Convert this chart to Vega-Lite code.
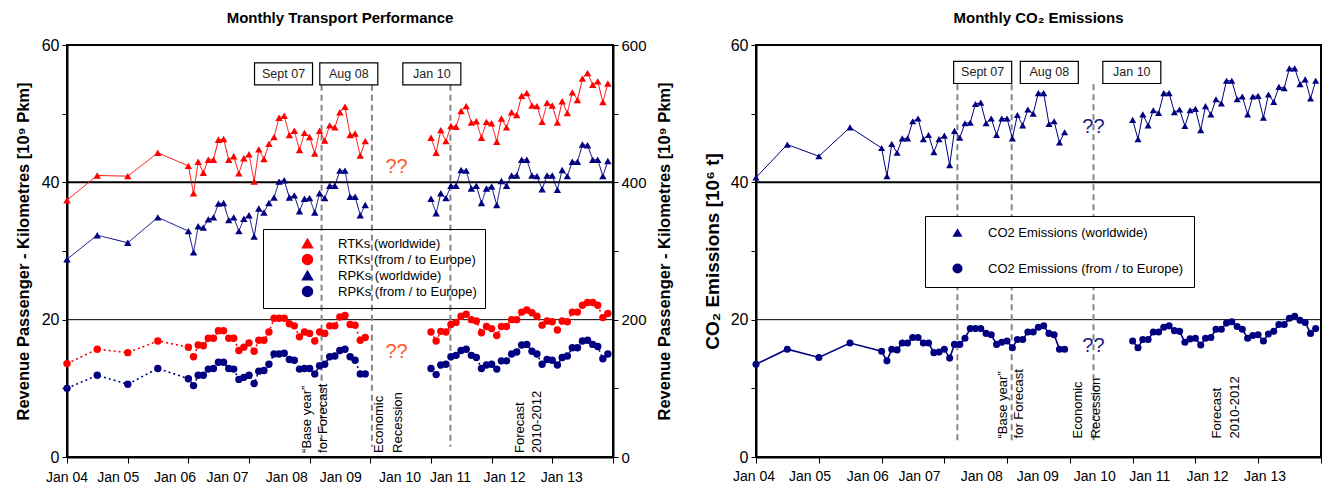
{
  "$schema": "https://vega.github.io/schema/vega-lite/v6.json",
  "padding": {"left": 14, "right": 2, "top": 10, "bottom": 2},
  "background": "white",
  "config": {
    "font": "Liberation Sans",
    "view": {"stroke": "black", "strokeWidth": 2},
    "axis": {"labelColor": "black", "titleColor": "black", "domainColor": "black", "tickColor": "black", "domainWidth": 2, "tickWidth": 1},
    "title": {"fontSize": 15, "fontWeight": "bold", "color": "black", "offset": 11},
    "legend": {"labelFont": "Liberation Sans", "labelLimit": 320}
  },
  "resolve": {"scale": {"color": "independent", "shape": "independent"}},
  "spacing": 28,
  "datasets": {
    "tp": [
      {"d":"2004-01","s":"RTKs (worldwide)","v":37.4},{"d":"2004-07","s":"RTKs (worldwide)","v":41.0},{"d":"2005-01","s":"RTKs (worldwide)","v":40.9},{"d":"2005-07","s":"RTKs (worldwide)","v":44.3},
      {"d":"2006-01","s":"RTKs (worldwide)","v":42.4},{"d":"2006-02","s":"RTKs (worldwide)","v":38.4},{"d":"2006-03","s":"RTKs (worldwide)","v":43.0},{"d":"2006-04","s":"RTKs (worldwide)","v":41.4},{"d":"2006-05","s":"RTKs (worldwide)","v":43.3},{"d":"2006-06","s":"RTKs (worldwide)","v":43.3},{"d":"2006-07","s":"RTKs (worldwide)","v":46.2},{"d":"2006-08","s":"RTKs (worldwide)","v":46.3},{"d":"2006-09","s":"RTKs (worldwide)","v":43.3},{"d":"2006-10","s":"RTKs (worldwide)","v":43.8},{"d":"2006-11","s":"RTKs (worldwide)","v":41.3},{"d":"2006-12","s":"RTKs (worldwide)","v":43.5},
      {"d":"2007-01","s":"RTKs (worldwide)","v":44.1},{"d":"2007-02","s":"RTKs (worldwide)","v":40.1},{"d":"2007-03","s":"RTKs (worldwide)","v":44.8},{"d":"2007-04","s":"RTKs (worldwide)","v":43.4},{"d":"2007-05","s":"RTKs (worldwide)","v":45.6},{"d":"2007-06","s":"RTKs (worldwide)","v":46.6},{"d":"2007-07","s":"RTKs (worldwide)","v":49.4},{"d":"2007-08","s":"RTKs (worldwide)","v":49.7},{"d":"2007-09","s":"RTKs (worldwide)","v":46.9},{"d":"2007-10","s":"RTKs (worldwide)","v":47.5},{"d":"2007-11","s":"RTKs (worldwide)","v":44.7},{"d":"2007-12","s":"RTKs (worldwide)","v":47.2},
      {"d":"2008-01","s":"RTKs (worldwide)","v":46.6},{"d":"2008-02","s":"RTKs (worldwide)","v":44.2},{"d":"2008-03","s":"RTKs (worldwide)","v":47.5},{"d":"2008-04","s":"RTKs (worldwide)","v":46.1},{"d":"2008-05","s":"RTKs (worldwide)","v":48.3},{"d":"2008-06","s":"RTKs (worldwide)","v":48.0},{"d":"2008-07","s":"RTKs (worldwide)","v":50.2},{"d":"2008-08","s":"RTKs (worldwide)","v":51.0},{"d":"2008-09","s":"RTKs (worldwide)","v":46.9},{"d":"2008-10","s":"RTKs (worldwide)","v":47.1},{"d":"2008-11","s":"RTKs (worldwide)","v":43.9},{"d":"2008-12","s":"RTKs (worldwide)","v":46.0},
      {"d":"2010-01","s":"RTKs (worldwide)","v":46.5},{"d":"2010-02","s":"RTKs (worldwide)","v":44.3},{"d":"2010-03","s":"RTKs (worldwide)","v":47.6},{"d":"2010-04","s":"RTKs (worldwide)","v":46.0},{"d":"2010-05","s":"RTKs (worldwide)","v":48.2},{"d":"2010-06","s":"RTKs (worldwide)","v":48.1},{"d":"2010-07","s":"RTKs (worldwide)","v":50.4},{"d":"2010-08","s":"RTKs (worldwide)","v":51.1},{"d":"2010-09","s":"RTKs (worldwide)","v":48.7},{"d":"2010-10","s":"RTKs (worldwide)","v":48.9},{"d":"2010-11","s":"RTKs (worldwide)","v":46.5},{"d":"2010-12","s":"RTKs (worldwide)","v":48.8},
      {"d":"2011-01","s":"RTKs (worldwide)","v":48.6},{"d":"2011-02","s":"RTKs (worldwide)","v":45.9},{"d":"2011-03","s":"RTKs (worldwide)","v":49.3},{"d":"2011-04","s":"RTKs (worldwide)","v":48.0},{"d":"2011-05","s":"RTKs (worldwide)","v":50.2},{"d":"2011-06","s":"RTKs (worldwide)","v":49.8},{"d":"2011-07","s":"RTKs (worldwide)","v":52.6},{"d":"2011-08","s":"RTKs (worldwide)","v":53.0},{"d":"2011-09","s":"RTKs (worldwide)","v":51.2},{"d":"2011-10","s":"RTKs (worldwide)","v":51.1},{"d":"2011-11","s":"RTKs (worldwide)","v":48.8},{"d":"2011-12","s":"RTKs (worldwide)","v":51.6},
      {"d":"2012-01","s":"RTKs (worldwide)","v":51.2},{"d":"2012-02","s":"RTKs (worldwide)","v":48.7},{"d":"2012-03","s":"RTKs (worldwide)","v":51.8},{"d":"2012-04","s":"RTKs (worldwide)","v":50.1},{"d":"2012-05","s":"RTKs (worldwide)","v":53.1},{"d":"2012-06","s":"RTKs (worldwide)","v":52.0},{"d":"2012-07","s":"RTKs (worldwide)","v":55.1},{"d":"2012-08","s":"RTKs (worldwide)","v":55.9},{"d":"2012-09","s":"RTKs (worldwide)","v":54.2},{"d":"2012-10","s":"RTKs (worldwide)","v":54.7},{"d":"2012-11","s":"RTKs (worldwide)","v":51.7},{"d":"2012-12","s":"RTKs (worldwide)","v":54.4},

      {"d":"2004-01","s":"RTKs (from / to Europe)","v":13.6},{"d":"2004-07","s":"RTKs (from / to Europe)","v":15.7},{"d":"2005-01","s":"RTKs (from / to Europe)","v":15.2},{"d":"2005-07","s":"RTKs (from / to Europe)","v":16.9},
      {"d":"2006-01","s":"RTKs (from / to Europe)","v":16.0},{"d":"2006-02","s":"RTKs (from / to Europe)","v":14.6},{"d":"2006-03","s":"RTKs (from / to Europe)","v":16.3},{"d":"2006-04","s":"RTKs (from / to Europe)","v":16.2},{"d":"2006-05","s":"RTKs (from / to Europe)","v":17.3},{"d":"2006-06","s":"RTKs (from / to Europe)","v":17.3},{"d":"2006-07","s":"RTKs (from / to Europe)","v":18.4},{"d":"2006-08","s":"RTKs (from / to Europe)","v":18.4},{"d":"2006-09","s":"RTKs (from / to Europe)","v":17.3},{"d":"2006-10","s":"RTKs (from / to Europe)","v":17.3},{"d":"2006-11","s":"RTKs (from / to Europe)","v":15.5},{"d":"2006-12","s":"RTKs (from / to Europe)","v":16.0},
      {"d":"2007-01","s":"RTKs (from / to Europe)","v":16.6},{"d":"2007-02","s":"RTKs (from / to Europe)","v":15.4},{"d":"2007-03","s":"RTKs (from / to Europe)","v":17.0},{"d":"2007-04","s":"RTKs (from / to Europe)","v":17.0},{"d":"2007-05","s":"RTKs (from / to Europe)","v":18.2},{"d":"2007-06","s":"RTKs (from / to Europe)","v":20.2},{"d":"2007-07","s":"RTKs (from / to Europe)","v":20.2},{"d":"2007-08","s":"RTKs (from / to Europe)","v":20.2},{"d":"2007-09","s":"RTKs (from / to Europe)","v":19.4},{"d":"2007-10","s":"RTKs (from / to Europe)","v":19.1},{"d":"2007-11","s":"RTKs (from / to Europe)","v":17.5},{"d":"2007-12","s":"RTKs (from / to Europe)","v":18.2},
      {"d":"2008-01","s":"RTKs (from / to Europe)","v":18.0},{"d":"2008-02","s":"RTKs (from / to Europe)","v":16.9},{"d":"2008-03","s":"RTKs (from / to Europe)","v":18.2},{"d":"2008-04","s":"RTKs (from / to Europe)","v":18.0},{"d":"2008-05","s":"RTKs (from / to Europe)","v":19.1},{"d":"2008-06","s":"RTKs (from / to Europe)","v":19.1},{"d":"2008-07","s":"RTKs (from / to Europe)","v":20.4},{"d":"2008-08","s":"RTKs (from / to Europe)","v":20.6},{"d":"2008-09","s":"RTKs (from / to Europe)","v":19.3},{"d":"2008-10","s":"RTKs (from / to Europe)","v":19.2},{"d":"2008-11","s":"RTKs (from / to Europe)","v":17.0},{"d":"2008-12","s":"RTKs (from / to Europe)","v":17.4},
      {"d":"2010-01","s":"RTKs (from / to Europe)","v":18.2},{"d":"2010-02","s":"RTKs (from / to Europe)","v":16.9},{"d":"2010-03","s":"RTKs (from / to Europe)","v":18.3},{"d":"2010-04","s":"RTKs (from / to Europe)","v":18.2},{"d":"2010-05","s":"RTKs (from / to Europe)","v":19.3},{"d":"2010-06","s":"RTKs (from / to Europe)","v":19.6},{"d":"2010-07","s":"RTKs (from / to Europe)","v":20.5},{"d":"2010-08","s":"RTKs (from / to Europe)","v":20.8},{"d":"2010-09","s":"RTKs (from / to Europe)","v":20.0},{"d":"2010-10","s":"RTKs (from / to Europe)","v":19.8},{"d":"2010-11","s":"RTKs (from / to Europe)","v":18.1},{"d":"2010-12","s":"RTKs (from / to Europe)","v":19.0},
      {"d":"2011-01","s":"RTKs (from / to Europe)","v":18.7},{"d":"2011-02","s":"RTKs (from / to Europe)","v":17.7},{"d":"2011-03","s":"RTKs (from / to Europe)","v":19.0},{"d":"2011-04","s":"RTKs (from / to Europe)","v":19.0},{"d":"2011-05","s":"RTKs (from / to Europe)","v":20.0},{"d":"2011-06","s":"RTKs (from / to Europe)","v":20.0},{"d":"2011-07","s":"RTKs (from / to Europe)","v":21.1},{"d":"2011-08","s":"RTKs (from / to Europe)","v":21.4},{"d":"2011-09","s":"RTKs (from / to Europe)","v":21.0},{"d":"2011-10","s":"RTKs (from / to Europe)","v":20.5},{"d":"2011-11","s":"RTKs (from / to Europe)","v":19.2},{"d":"2011-12","s":"RTKs (from / to Europe)","v":19.8},
      {"d":"2012-01","s":"RTKs (from / to Europe)","v":19.7},{"d":"2012-02","s":"RTKs (from / to Europe)","v":18.5},{"d":"2012-03","s":"RTKs (from / to Europe)","v":19.8},{"d":"2012-04","s":"RTKs (from / to Europe)","v":19.7},{"d":"2012-05","s":"RTKs (from / to Europe)","v":21.1},{"d":"2012-06","s":"RTKs (from / to Europe)","v":21.1},{"d":"2012-07","s":"RTKs (from / to Europe)","v":22.1},{"d":"2012-08","s":"RTKs (from / to Europe)","v":22.5},{"d":"2012-09","s":"RTKs (from / to Europe)","v":22.5},{"d":"2012-10","s":"RTKs (from / to Europe)","v":22.1},{"d":"2012-11","s":"RTKs (from / to Europe)","v":20.3},{"d":"2012-12","s":"RTKs (from / to Europe)","v":20.9},

      {"d":"2004-01","s":"RPKs (worldwide)","v":288},{"d":"2004-07","s":"RPKs (worldwide)","v":323},{"d":"2005-01","s":"RPKs (worldwide)","v":312},{"d":"2005-07","s":"RPKs (worldwide)","v":349},
      {"d":"2006-01","s":"RPKs (worldwide)","v":329},{"d":"2006-02","s":"RPKs (worldwide)","v":298},{"d":"2006-03","s":"RPKs (worldwide)","v":336},{"d":"2006-04","s":"RPKs (worldwide)","v":334},{"d":"2006-05","s":"RPKs (worldwide)","v":346},{"d":"2006-06","s":"RPKs (worldwide)","v":349},{"d":"2006-07","s":"RPKs (worldwide)","v":369},{"d":"2006-08","s":"RPKs (worldwide)","v":370},{"d":"2006-09","s":"RPKs (worldwide)","v":345},{"d":"2006-10","s":"RPKs (worldwide)","v":349},{"d":"2006-11","s":"RPKs (worldwide)","v":329},{"d":"2006-12","s":"RPKs (worldwide)","v":347},
      {"d":"2007-01","s":"RPKs (worldwide)","v":352},{"d":"2007-02","s":"RPKs (worldwide)","v":321},{"d":"2007-03","s":"RPKs (worldwide)","v":362},{"d":"2007-04","s":"RPKs (worldwide)","v":356},{"d":"2007-05","s":"RPKs (worldwide)","v":370},{"d":"2007-06","s":"RPKs (worldwide)","v":378},{"d":"2007-07","s":"RPKs (worldwide)","v":401},{"d":"2007-08","s":"RPKs (worldwide)","v":403},{"d":"2007-09","s":"RPKs (worldwide)","v":378},{"d":"2007-10","s":"RPKs (worldwide)","v":381},{"d":"2007-11","s":"RPKs (worldwide)","v":358},{"d":"2007-12","s":"RPKs (worldwide)","v":376},
      {"d":"2008-01","s":"RPKs (worldwide)","v":377},{"d":"2008-02","s":"RPKs (worldwide)","v":356},{"d":"2008-03","s":"RPKs (worldwide)","v":384},{"d":"2008-04","s":"RPKs (worldwide)","v":377},{"d":"2008-05","s":"RPKs (worldwide)","v":395},{"d":"2008-06","s":"RPKs (worldwide)","v":395},{"d":"2008-07","s":"RPKs (worldwide)","v":417},{"d":"2008-08","s":"RPKs (worldwide)","v":417},{"d":"2008-09","s":"RPKs (worldwide)","v":379},{"d":"2008-10","s":"RPKs (worldwide)","v":379},{"d":"2008-11","s":"RPKs (worldwide)","v":352},{"d":"2008-12","s":"RPKs (worldwide)","v":367},
      {"d":"2010-01","s":"RPKs (worldwide)","v":376},{"d":"2010-02","s":"RPKs (worldwide)","v":355},{"d":"2010-03","s":"RPKs (worldwide)","v":384},{"d":"2010-04","s":"RPKs (worldwide)","v":377},{"d":"2010-05","s":"RPKs (worldwide)","v":395},{"d":"2010-06","s":"RPKs (worldwide)","v":395},{"d":"2010-07","s":"RPKs (worldwide)","v":418},{"d":"2010-08","s":"RPKs (worldwide)","v":417},{"d":"2010-09","s":"RPKs (worldwide)","v":391},{"d":"2010-10","s":"RPKs (worldwide)","v":395},{"d":"2010-11","s":"RPKs (worldwide)","v":370},{"d":"2010-12","s":"RPKs (worldwide)","v":391},
      {"d":"2011-01","s":"RPKs (worldwide)","v":394},{"d":"2011-02","s":"RPKs (worldwide)","v":367},{"d":"2011-03","s":"RPKs (worldwide)","v":402},{"d":"2011-04","s":"RPKs (worldwide)","v":395},{"d":"2011-05","s":"RPKs (worldwide)","v":410},{"d":"2011-06","s":"RPKs (worldwide)","v":410},{"d":"2011-07","s":"RPKs (worldwide)","v":433},{"d":"2011-08","s":"RPKs (worldwide)","v":433},{"d":"2011-09","s":"RPKs (worldwide)","v":410},{"d":"2011-10","s":"RPKs (worldwide)","v":409},{"d":"2011-11","s":"RPKs (worldwide)","v":390},{"d":"2011-12","s":"RPKs (worldwide)","v":410},
      {"d":"2012-01","s":"RPKs (worldwide)","v":410},{"d":"2012-02","s":"RPKs (worldwide)","v":389},{"d":"2012-03","s":"RPKs (worldwide)","v":418},{"d":"2012-04","s":"RPKs (worldwide)","v":409},{"d":"2012-05","s":"RPKs (worldwide)","v":430},{"d":"2012-06","s":"RPKs (worldwide)","v":430},{"d":"2012-07","s":"RPKs (worldwide)","v":455},{"d":"2012-08","s":"RPKs (worldwide)","v":454},{"d":"2012-09","s":"RPKs (worldwide)","v":433},{"d":"2012-10","s":"RPKs (worldwide)","v":433},{"d":"2012-11","s":"RPKs (worldwide)","v":409},{"d":"2012-12","s":"RPKs (worldwide)","v":431},

      {"d":"2004-01","s":"RPKs (from / to Europe)","v":100},{"d":"2004-07","s":"RPKs (from / to Europe)","v":119},{"d":"2005-01","s":"RPKs (from / to Europe)","v":106},{"d":"2005-07","s":"RPKs (from / to Europe)","v":129},
      {"d":"2006-01","s":"RPKs (from / to Europe)","v":114},{"d":"2006-02","s":"RPKs (from / to Europe)","v":104},{"d":"2006-03","s":"RPKs (from / to Europe)","v":119},{"d":"2006-04","s":"RPKs (from / to Europe)","v":119},{"d":"2006-05","s":"RPKs (from / to Europe)","v":128},{"d":"2006-06","s":"RPKs (from / to Europe)","v":129},{"d":"2006-07","s":"RPKs (from / to Europe)","v":138},{"d":"2006-08","s":"RPKs (from / to Europe)","v":138},{"d":"2006-09","s":"RPKs (from / to Europe)","v":129},{"d":"2006-10","s":"RPKs (from / to Europe)","v":128},{"d":"2006-11","s":"RPKs (from / to Europe)","v":113},{"d":"2006-12","s":"RPKs (from / to Europe)","v":116},
      {"d":"2007-01","s":"RPKs (from / to Europe)","v":119},{"d":"2007-02","s":"RPKs (from / to Europe)","v":107},{"d":"2007-03","s":"RPKs (from / to Europe)","v":125},{"d":"2007-04","s":"RPKs (from / to Europe)","v":126},{"d":"2007-05","s":"RPKs (from / to Europe)","v":135},{"d":"2007-06","s":"RPKs (from / to Europe)","v":150},{"d":"2007-07","s":"RPKs (from / to Europe)","v":150},{"d":"2007-08","s":"RPKs (from / to Europe)","v":151},{"d":"2007-09","s":"RPKs (from / to Europe)","v":142},{"d":"2007-10","s":"RPKs (from / to Europe)","v":141},{"d":"2007-11","s":"RPKs (from / to Europe)","v":128},{"d":"2007-12","s":"RPKs (from / to Europe)","v":129},
      {"d":"2008-01","s":"RPKs (from / to Europe)","v":129},{"d":"2008-02","s":"RPKs (from / to Europe)","v":121},{"d":"2008-03","s":"RPKs (from / to Europe)","v":133},{"d":"2008-04","s":"RPKs (from / to Europe)","v":135},{"d":"2008-05","s":"RPKs (from / to Europe)","v":146},{"d":"2008-06","s":"RPKs (from / to Europe)","v":147},{"d":"2008-07","s":"RPKs (from / to Europe)","v":155},{"d":"2008-08","s":"RPKs (from / to Europe)","v":157},{"d":"2008-09","s":"RPKs (from / to Europe)","v":146},{"d":"2008-10","s":"RPKs (from / to Europe)","v":141},{"d":"2008-11","s":"RPKs (from / to Europe)","v":121},{"d":"2008-12","s":"RPKs (from / to Europe)","v":121},
      {"d":"2010-01","s":"RPKs (from / to Europe)","v":129},{"d":"2010-02","s":"RPKs (from / to Europe)","v":120},{"d":"2010-03","s":"RPKs (from / to Europe)","v":134},{"d":"2010-04","s":"RPKs (from / to Europe)","v":135},{"d":"2010-05","s":"RPKs (from / to Europe)","v":146},{"d":"2010-06","s":"RPKs (from / to Europe)","v":148},{"d":"2010-07","s":"RPKs (from / to Europe)","v":155},{"d":"2010-08","s":"RPKs (from / to Europe)","v":157},{"d":"2010-09","s":"RPKs (from / to Europe)","v":148},{"d":"2010-10","s":"RPKs (from / to Europe)","v":145},{"d":"2010-11","s":"RPKs (from / to Europe)","v":129},{"d":"2010-12","s":"RPKs (from / to Europe)","v":134},
      {"d":"2011-01","s":"RPKs (from / to Europe)","v":135},{"d":"2011-02","s":"RPKs (from / to Europe)","v":128},{"d":"2011-03","s":"RPKs (from / to Europe)","v":140},{"d":"2011-04","s":"RPKs (from / to Europe)","v":140},{"d":"2011-05","s":"RPKs (from / to Europe)","v":150},{"d":"2011-06","s":"RPKs (from / to Europe)","v":153},{"d":"2011-07","s":"RPKs (from / to Europe)","v":163},{"d":"2011-08","s":"RPKs (from / to Europe)","v":164},{"d":"2011-09","s":"RPKs (from / to Europe)","v":154},{"d":"2011-10","s":"RPKs (from / to Europe)","v":150},{"d":"2011-11","s":"RPKs (from / to Europe)","v":135},{"d":"2011-12","s":"RPKs (from / to Europe)","v":142},
      {"d":"2012-01","s":"RPKs (from / to Europe)","v":141},{"d":"2012-02","s":"RPKs (from / to Europe)","v":134},{"d":"2012-03","s":"RPKs (from / to Europe)","v":145},{"d":"2012-04","s":"RPKs (from / to Europe)","v":147},{"d":"2012-05","s":"RPKs (from / to Europe)","v":159},{"d":"2012-06","s":"RPKs (from / to Europe)","v":159},{"d":"2012-07","s":"RPKs (from / to Europe)","v":169},{"d":"2012-08","s":"RPKs (from / to Europe)","v":170},{"d":"2012-09","s":"RPKs (from / to Europe)","v":164},{"d":"2012-10","s":"RPKs (from / to Europe)","v":161},{"d":"2012-11","s":"RPKs (from / to Europe)","v":143},{"d":"2012-12","s":"RPKs (from / to Europe)","v":150}
    ],
    "co2": [
      {"d":"2004-01","s":"CO2 Emissions (worldwide)","v":40.7},{"d":"2004-07","s":"CO2 Emissions (worldwide)","v":45.5},{"d":"2005-01","s":"CO2 Emissions (worldwide)","v":43.8},{"d":"2005-07","s":"CO2 Emissions (worldwide)","v":48.0},
      {"d":"2006-01","s":"CO2 Emissions (worldwide)","v":45.0},{"d":"2006-02","s":"CO2 Emissions (worldwide)","v":40.9},{"d":"2006-03","s":"CO2 Emissions (worldwide)","v":45.6},{"d":"2006-04","s":"CO2 Emissions (worldwide)","v":44.3},{"d":"2006-05","s":"CO2 Emissions (worldwide)","v":46.4},{"d":"2006-06","s":"CO2 Emissions (worldwide)","v":46.4},{"d":"2006-07","s":"CO2 Emissions (worldwide)","v":48.9},{"d":"2006-08","s":"CO2 Emissions (worldwide)","v":49.3},{"d":"2006-09","s":"CO2 Emissions (worldwide)","v":46.3},{"d":"2006-10","s":"CO2 Emissions (worldwide)","v":46.9},{"d":"2006-11","s":"CO2 Emissions (worldwide)","v":44.4},{"d":"2006-12","s":"CO2 Emissions (worldwide)","v":46.3},
      {"d":"2007-01","s":"CO2 Emissions (worldwide)","v":46.8},{"d":"2007-02","s":"CO2 Emissions (worldwide)","v":42.5},{"d":"2007-03","s":"CO2 Emissions (worldwide)","v":47.5},{"d":"2007-04","s":"CO2 Emissions (worldwide)","v":46.5},{"d":"2007-05","s":"CO2 Emissions (worldwide)","v":48.6},{"d":"2007-06","s":"CO2 Emissions (worldwide)","v":48.7},{"d":"2007-07","s":"CO2 Emissions (worldwide)","v":51.4},{"d":"2007-08","s":"CO2 Emissions (worldwide)","v":51.6},{"d":"2007-09","s":"CO2 Emissions (worldwide)","v":48.6},{"d":"2007-10","s":"CO2 Emissions (worldwide)","v":49.3},{"d":"2007-11","s":"CO2 Emissions (worldwide)","v":46.9},{"d":"2007-12","s":"CO2 Emissions (worldwide)","v":49.3},
      {"d":"2008-01","s":"CO2 Emissions (worldwide)","v":49.3},{"d":"2008-02","s":"CO2 Emissions (worldwide)","v":46.4},{"d":"2008-03","s":"CO2 Emissions (worldwide)","v":49.8},{"d":"2008-04","s":"CO2 Emissions (worldwide)","v":48.3},{"d":"2008-05","s":"CO2 Emissions (worldwide)","v":50.6},{"d":"2008-06","s":"CO2 Emissions (worldwide)","v":50.0},{"d":"2008-07","s":"CO2 Emissions (worldwide)","v":53.0},{"d":"2008-08","s":"CO2 Emissions (worldwide)","v":53.0},{"d":"2008-09","s":"CO2 Emissions (worldwide)","v":48.5},{"d":"2008-10","s":"CO2 Emissions (worldwide)","v":48.9},{"d":"2008-11","s":"CO2 Emissions (worldwide)","v":45.8},{"d":"2008-12","s":"CO2 Emissions (worldwide)","v":47.3},
      {"d":"2010-01","s":"CO2 Emissions (worldwide)","v":49.1},{"d":"2010-02","s":"CO2 Emissions (worldwide)","v":46.3},{"d":"2010-03","s":"CO2 Emissions (worldwide)","v":49.9},{"d":"2010-04","s":"CO2 Emissions (worldwide)","v":48.3},{"d":"2010-05","s":"CO2 Emissions (worldwide)","v":50.5},{"d":"2010-06","s":"CO2 Emissions (worldwide)","v":50.1},{"d":"2010-07","s":"CO2 Emissions (worldwide)","v":53.0},{"d":"2010-08","s":"CO2 Emissions (worldwide)","v":53.0},{"d":"2010-09","s":"CO2 Emissions (worldwide)","v":50.2},{"d":"2010-10","s":"CO2 Emissions (worldwide)","v":50.6},{"d":"2010-11","s":"CO2 Emissions (worldwide)","v":48.2},{"d":"2010-12","s":"CO2 Emissions (worldwide)","v":50.5},
      {"d":"2011-01","s":"CO2 Emissions (worldwide)","v":50.7},{"d":"2011-02","s":"CO2 Emissions (worldwide)","v":47.6},{"d":"2011-03","s":"CO2 Emissions (worldwide)","v":51.1},{"d":"2011-04","s":"CO2 Emissions (worldwide)","v":49.9},{"d":"2011-05","s":"CO2 Emissions (worldwide)","v":52.1},{"d":"2011-06","s":"CO2 Emissions (worldwide)","v":51.5},{"d":"2011-07","s":"CO2 Emissions (worldwide)","v":54.8},{"d":"2011-08","s":"CO2 Emissions (worldwide)","v":54.8},{"d":"2011-09","s":"CO2 Emissions (worldwide)","v":52.1},{"d":"2011-10","s":"CO2 Emissions (worldwide)","v":52.5},{"d":"2011-11","s":"CO2 Emissions (worldwide)","v":49.9},{"d":"2011-12","s":"CO2 Emissions (worldwide)","v":52.5},
      {"d":"2012-01","s":"CO2 Emissions (worldwide)","v":52.6},{"d":"2012-02","s":"CO2 Emissions (worldwide)","v":49.4},{"d":"2012-03","s":"CO2 Emissions (worldwide)","v":52.8},{"d":"2012-04","s":"CO2 Emissions (worldwide)","v":51.7},{"d":"2012-05","s":"CO2 Emissions (worldwide)","v":53.9},{"d":"2012-06","s":"CO2 Emissions (worldwide)","v":53.7},{"d":"2012-07","s":"CO2 Emissions (worldwide)","v":56.6},{"d":"2012-08","s":"CO2 Emissions (worldwide)","v":56.6},{"d":"2012-09","s":"CO2 Emissions (worldwide)","v":54.3},{"d":"2012-10","s":"CO2 Emissions (worldwide)","v":55.0},{"d":"2012-11","s":"CO2 Emissions (worldwide)","v":52.2},{"d":"2012-12","s":"CO2 Emissions (worldwide)","v":54.8},

      {"d":"2004-01","s":"CO2 Emissions (from / to Europe)","v":13.5},{"d":"2004-07","s":"CO2 Emissions (from / to Europe)","v":15.7},{"d":"2005-01","s":"CO2 Emissions (from / to Europe)","v":14.5},{"d":"2005-07","s":"CO2 Emissions (from / to Europe)","v":16.6},
      {"d":"2006-01","s":"CO2 Emissions (from / to Europe)","v":15.4},{"d":"2006-02","s":"CO2 Emissions (from / to Europe)","v":14.0},{"d":"2006-03","s":"CO2 Emissions (from / to Europe)","v":15.7},{"d":"2006-04","s":"CO2 Emissions (from / to Europe)","v":15.6},{"d":"2006-05","s":"CO2 Emissions (from / to Europe)","v":16.6},{"d":"2006-06","s":"CO2 Emissions (from / to Europe)","v":16.6},{"d":"2006-07","s":"CO2 Emissions (from / to Europe)","v":17.4},{"d":"2006-08","s":"CO2 Emissions (from / to Europe)","v":17.4},{"d":"2006-09","s":"CO2 Emissions (from / to Europe)","v":16.6},{"d":"2006-10","s":"CO2 Emissions (from / to Europe)","v":16.6},{"d":"2006-11","s":"CO2 Emissions (from / to Europe)","v":15.2},{"d":"2006-12","s":"CO2 Emissions (from / to Europe)","v":15.3},
      {"d":"2007-01","s":"CO2 Emissions (from / to Europe)","v":15.7},{"d":"2007-02","s":"CO2 Emissions (from / to Europe)","v":14.4},{"d":"2007-03","s":"CO2 Emissions (from / to Europe)","v":16.4},{"d":"2007-04","s":"CO2 Emissions (from / to Europe)","v":16.4},{"d":"2007-05","s":"CO2 Emissions (from / to Europe)","v":17.3},{"d":"2007-06","s":"CO2 Emissions (from / to Europe)","v":18.7},{"d":"2007-07","s":"CO2 Emissions (from / to Europe)","v":18.7},{"d":"2007-08","s":"CO2 Emissions (from / to Europe)","v":18.7},{"d":"2007-09","s":"CO2 Emissions (from / to Europe)","v":18.0},{"d":"2007-10","s":"CO2 Emissions (from / to Europe)","v":17.8},{"d":"2007-11","s":"CO2 Emissions (from / to Europe)","v":16.4},{"d":"2007-12","s":"CO2 Emissions (from / to Europe)","v":16.7},
      {"d":"2008-01","s":"CO2 Emissions (from / to Europe)","v":16.9},{"d":"2008-02","s":"CO2 Emissions (from / to Europe)","v":15.9},{"d":"2008-03","s":"CO2 Emissions (from / to Europe)","v":17.1},{"d":"2008-04","s":"CO2 Emissions (from / to Europe)","v":17.1},{"d":"2008-05","s":"CO2 Emissions (from / to Europe)","v":18.2},{"d":"2008-06","s":"CO2 Emissions (from / to Europe)","v":18.2},{"d":"2008-07","s":"CO2 Emissions (from / to Europe)","v":18.9},{"d":"2008-08","s":"CO2 Emissions (from / to Europe)","v":19.1},{"d":"2008-09","s":"CO2 Emissions (from / to Europe)","v":18.0},{"d":"2008-10","s":"CO2 Emissions (from / to Europe)","v":17.8},{"d":"2008-11","s":"CO2 Emissions (from / to Europe)","v":15.7},{"d":"2008-12","s":"CO2 Emissions (from / to Europe)","v":15.7},
      {"d":"2010-01","s":"CO2 Emissions (from / to Europe)","v":16.9},{"d":"2010-02","s":"CO2 Emissions (from / to Europe)","v":15.9},{"d":"2010-03","s":"CO2 Emissions (from / to Europe)","v":17.1},{"d":"2010-04","s":"CO2 Emissions (from / to Europe)","v":17.1},{"d":"2010-05","s":"CO2 Emissions (from / to Europe)","v":18.2},{"d":"2010-06","s":"CO2 Emissions (from / to Europe)","v":18.2},{"d":"2010-07","s":"CO2 Emissions (from / to Europe)","v":18.9},{"d":"2010-08","s":"CO2 Emissions (from / to Europe)","v":19.1},{"d":"2010-09","s":"CO2 Emissions (from / to Europe)","v":18.4},{"d":"2010-10","s":"CO2 Emissions (from / to Europe)","v":18.3},{"d":"2010-11","s":"CO2 Emissions (from / to Europe)","v":16.7},{"d":"2010-12","s":"CO2 Emissions (from / to Europe)","v":17.2},
      {"d":"2011-01","s":"CO2 Emissions (from / to Europe)","v":17.3},{"d":"2011-02","s":"CO2 Emissions (from / to Europe)","v":16.3},{"d":"2011-03","s":"CO2 Emissions (from / to Europe)","v":17.3},{"d":"2011-04","s":"CO2 Emissions (from / to Europe)","v":17.4},{"d":"2011-05","s":"CO2 Emissions (from / to Europe)","v":18.6},{"d":"2011-06","s":"CO2 Emissions (from / to Europe)","v":18.6},{"d":"2011-07","s":"CO2 Emissions (from / to Europe)","v":19.5},{"d":"2011-08","s":"CO2 Emissions (from / to Europe)","v":19.7},{"d":"2011-09","s":"CO2 Emissions (from / to Europe)","v":19.0},{"d":"2011-10","s":"CO2 Emissions (from / to Europe)","v":18.6},{"d":"2011-11","s":"CO2 Emissions (from / to Europe)","v":17.3},{"d":"2011-12","s":"CO2 Emissions (from / to Europe)","v":17.7},
      {"d":"2012-01","s":"CO2 Emissions (from / to Europe)","v":17.8},{"d":"2012-02","s":"CO2 Emissions (from / to Europe)","v":16.9},{"d":"2012-03","s":"CO2 Emissions (from / to Europe)","v":17.9},{"d":"2012-04","s":"CO2 Emissions (from / to Europe)","v":18.3},{"d":"2012-05","s":"CO2 Emissions (from / to Europe)","v":19.3},{"d":"2012-06","s":"CO2 Emissions (from / to Europe)","v":19.3},{"d":"2012-07","s":"CO2 Emissions (from / to Europe)","v":20.2},{"d":"2012-08","s":"CO2 Emissions (from / to Europe)","v":20.5},{"d":"2012-09","s":"CO2 Emissions (from / to Europe)","v":19.9},{"d":"2012-10","s":"CO2 Emissions (from / to Europe)","v":19.6},{"d":"2012-11","s":"CO2 Emissions (from / to Europe)","v":18.0},{"d":"2012-12","s":"CO2 Emissions (from / to Europe)","v":18.7}
    ]
  },
  "hconcat": [
    {
      "width": 546,
      "height": 412,
      "title": "Monthly Transport Performance",
      "data": {"name": "tp"},
      "encoding": {
        "x": {
          "field": "d", "type": "temporal",
          "scale": {"type": "utc", "domain": [{"year": 2004, "month": 1, "date": 1, "utc": true}, {"year": 2013, "month": 1, "date": 1, "utc": true}]},
          "axis": {
            "values": [{"year":2004,"utc":true},{"year":2005,"utc":true},{"year":2006,"utc":true},{"year":2007,"utc":true},{"year":2008,"utc":true},{"year":2009,"utc":true},{"year":2010,"utc":true},{"year":2011,"utc":true},{"year":2012,"utc":true},{"year":2013,"utc":true}],
            "labels": false, "tickSize": 6, "title": null, "grid": false
          }
        }
      },
      "layer": [
        {
          "encoding": {
            "y": {
              "field": "v", "type": "quantitative",
              "scale": {"domain": [0, 60], "nice": false},
              "axis": {
                "values": [0, 10, 20, 30, 40, 50, 60],
                "labelExpr": "datum.value % 20 === 0 ? datum.label : ''",
                "title": "Revenue Passenger - Kilometres [10⁹ Pkm]",
                "titleFontSize": 16.5, "titleFontWeight": "bold", "titlePadding": 10,
                "labelFontSize": 16, "labelPadding": 3, "tickSize": 5,
                "grid": false
              }
            }
          },
          "layer": [
            {"data": {"values": [{"d":"2004-01-01","d2":"2013-01-01","v":20},{"d":"2004-01-01","d2":"2013-01-01","v":40}]}, "mark": {"type": "rule", "color": "black"}, "encoding": {"x2": {"field": "d2"}, "strokeWidth": {"condition": {"test": "datum.v === 40", "value": 2}, "value": 1}}},
            {"data": {"values": [{"d":"2004-01-01","t":"Jan 04","v":-3.1},{"d":"2004-11-04","t":"Jan 05","v":-3.1},{"d":"2005-10-13","t":"Jan 06","v":-3.1},{"d":"2006-08-25","t":"Jan 07","v":-3.1},{"d":"2007-08-16","t":"Jan 08","v":-3.1},{"d":"2008-07-07","t":"Jan 09","v":-3.1},{"d":"2009-06-28","t":"Jan 10","v":-3.1},{"d":"2010-04-28","t":"Jan 11","v":-3.1},{"d":"2011-03-19","t":"Jan 12","v":-3.1},{"d":"2012-02-28","t":"Jan 13","v":-3.1}]}, "mark": {"type": "text", "fontSize": 14, "color": "black", "baseline": "middle"}, "encoding": {"text": {"field": "t"}}},
            {"data": {"values": [{"d":"2008-03-13","v":54.2,"v2":1.5},{"d":"2009-01-10","v":54.2,"v2":1.5},{"d":"2010-04-28","v":54.2,"v2":1.5}]}, "mark": {"type": "rule", "color": "#858585", "strokeWidth": 2, "strokeDash": [6, 4]}, "encoding": {"y2": {"field": "v2"}}},
            {"data": {"values": [{"d":"2007-07-28","t":"Sept 07","v":55.8},{"d":"2008-08-24","t":"Aug 08","v":55.8},{"d":"2010-01-06","t":"Jan 10","v":55.8}]}, "mark": {"type": "point", "shape": "M-1,-0.38H1V0.38H-1Z", "size": 3364, "filled": true, "fill": "white", "stroke": "black", "strokeWidth": 1.2, "opacity": 1}},
            {"data": {"values": [{"d":"2007-07-28","t":"Sept 07","v":55.8},{"d":"2008-08-24","t":"Aug 08","v":55.8},{"d":"2010-01-06","t":"Jan 10","v":55.8}]}, "mark": {"type": "text", "fontSize": 12.5, "color": "#222222"}, "encoding": {"text": {"field": "t"}}},
            {"data": {"values": [{"d":"2007-12-15","t":"“Base year”","v":0.6},{"d":"2008-03-20","t":"for Forecast","v":0.6},{"d":"2009-02-21","t":"Economic","v":0.6},{"d":"2009-06-15","t":"Recession","v":0.6},{"d":"2011-06-18","t":"Forecast","v":0.6},{"d":"2011-10-01","t":"2010-2012","v":0.6}]}, "mark": {"type": "text", "angle": 270, "align": "left", "baseline": "middle", "fontSize": 13, "color": "black"}, "encoding": {"text": {"field": "t"}}},
            {"data": {"values": [{"d":"2009-06-08","t":"??","v":42.2},{"d":"2009-06-08","t":"??","v":15.3}]}, "mark": {"type": "text", "fontSize": 20, "color": "#FF5A28"}, "encoding": {"text": {"field": "t"}}},
            {
              "transform": [{"filter": "indexof(datum.s,'RTK') === 0"}],
              "encoding": {
                "color": {"field": "s", "type": "nominal", "scale": {"domain": ["RTKs (worldwide)", "RTKs (from / to Europe)", "RPKs (worldwide)", "RPKs (from / to Europe)"], "range": ["#FF0000", "#FF0000", "#000080", "#000080"]},
                  "legend": {"title": null, "orient": "none", "legendX": 196, "legendY": 184, "padding": 8, "strokeColor": "black", "labelFontSize": 13, "labelColor": "black", "rowPadding": 0, "symbolOffset": 30, "labelOffset": 24}}
              },
              "layer": [
                {
                  "transform": [{"filter": "utcyear(datum.d) < 2009"}],
                  "mark": {"type": "line"},
                  "encoding": {
                    "strokeDash": {"condition": {"test": "indexof(datum.s,'Europe') >= 0", "value": [2, 3]}, "value": [1, 0]},
                    "strokeWidth": {"condition": {"test": "indexof(datum.s,'Europe') >= 0", "value": 1.6}, "value": 1}
                  }
                },
                {
                  "transform": [{"filter": "utcyear(datum.d) > 2009"}],
                  "mark": {"type": "line"},
                  "encoding": {
                    "strokeDash": {"condition": {"test": "indexof(datum.s,'Europe') >= 0", "value": [2, 3]}, "value": [1, 0]},
                    "strokeWidth": {"condition": {"test": "indexof(datum.s,'Europe') >= 0", "value": 1.6}, "value": 1}
                  }
                },
                {
                  "mark": {"type": "point", "filled": true, "opacity": 1, "size": 55},
                  "encoding": {
                    "shape": {
                      "field": "s", "type": "nominal",
                      "scale": {"domain": ["RTKs (worldwide)", "RTKs (from / to Europe)", "RPKs (worldwide)", "RPKs (from / to Europe)"], "range": ["triangle-up", "circle", "triangle-up", "circle"]},
                      "legend": {"title": null, "orient": "none", "legendX": 196, "legendY": 184, "padding": 8, "strokeColor": "black", "labelFontSize": 13, "labelColor": "black", "rowPadding": 0, "symbolOffset": 30, "labelOffset": 24}
                    }
                  }
                }
              ]
            }
          ]
        },
        {
          "transform": [{"filter": "indexof(datum.s,'RPK') === 0"}],
          "encoding": {
            "y": {
              "field": "v", "type": "quantitative",
              "scale": {"domain": [0, 600], "nice": false},
              "axis": {
                "orient": "right",
                "values": [0, 100, 200, 300, 400, 500, 600],
                "labelExpr": "datum.value % 200 === 0 ? datum.label : ''",
                "title": "Revenue Passenger - Kilometres [10⁹ Pkm]",
                "titleFontSize": 16.5, "titleFontWeight": "bold", "titleAngle": 270, "titleBaseline": "top", "titlePadding": 10,
                "labelFontSize": 15, "labelPadding": 3, "tickSize": 5, "grid": false
              }
            },
            "color": {"field": "s", "type": "nominal", "scale": {"domain": ["RTKs (worldwide)", "RTKs (from / to Europe)", "RPKs (worldwide)", "RPKs (from / to Europe)"], "range": ["#FF0000", "#FF0000", "#000080", "#000080"]},
              "legend": {"title": null, "orient": "none", "legendX": 196, "legendY": 184, "padding": 8, "strokeColor": "black", "labelFontSize": 13, "labelColor": "black", "rowPadding": 0, "symbolOffset": 30, "labelOffset": 24}}
          },
          "layer": [
            {
              "transform": [{"filter": "utcyear(datum.d) < 2009"}],
              "mark": {"type": "line"},
              "encoding": {
                "strokeDash": {"condition": {"test": "indexof(datum.s,'Europe') >= 0", "value": [2, 3]}, "value": [1, 0]},
                "strokeWidth": {"condition": {"test": "indexof(datum.s,'Europe') >= 0", "value": 1.6}, "value": 1}
              }
            },
            {
              "transform": [{"filter": "utcyear(datum.d) > 2009"}],
              "mark": {"type": "line"},
              "encoding": {
                "strokeDash": {"condition": {"test": "indexof(datum.s,'Europe') >= 0", "value": [2, 3]}, "value": [1, 0]},
                "strokeWidth": {"condition": {"test": "indexof(datum.s,'Europe') >= 0", "value": 1.6}, "value": 1}
              }
            },
            {
              "mark": {"type": "point", "filled": true, "opacity": 1, "size": 55},
              "encoding": {
                "shape": {
                  "field": "s", "type": "nominal",
                  "scale": {"domain": ["RTKs (worldwide)", "RTKs (from / to Europe)", "RPKs (worldwide)", "RPKs (from / to Europe)"], "range": ["triangle-up", "circle", "triangle-up", "circle"]},
                  "legend": {"title": null, "orient": "none", "legendX": 196, "legendY": 184, "padding": 8, "strokeColor": "black", "labelFontSize": 13, "labelColor": "black", "rowPadding": 0, "symbolOffset": 30, "labelOffset": 24}
                }
              }
            }
          ]
        }
      ],
      "resolve": {"scale": {"y": "independent"}}
    },
    {
      "width": 565,
      "height": 412,
      "title": "Monthly CO₂ Emissions",
      "data": {"name": "co2"},
      "encoding": {
        "x": {
          "field": "d", "type": "temporal",
          "scale": {"type": "utc", "domain": [{"year": 2004, "month": 1, "date": 1, "utc": true}, {"year": 2013, "month": 1, "date": 1, "utc": true}]},
          "axis": {
            "values": [{"year":2004,"utc":true},{"year":2005,"utc":true},{"year":2006,"utc":true},{"year":2007,"utc":true},{"year":2008,"utc":true},{"year":2009,"utc":true},{"year":2010,"utc":true},{"year":2011,"utc":true},{"year":2012,"utc":true},{"year":2013,"utc":true}],
            "labels": false, "tickSize": 6, "title": null, "grid": false
          }
        },
        "y": {
          "field": "v", "type": "quantitative",
          "scale": {"domain": [0, 60], "nice": false},
          "axis": {
            "values": [0, 10, 20, 30, 40, 50, 60],
            "labelExpr": "datum.value % 20 === 0 ? datum.label : ''",
            "title": "CO₂ Emissions [10⁶ t]",
            "titleFontSize": 19, "titleFontWeight": "bold", "titlePadding": 8,
            "labelFontSize": 16, "labelPadding": 3, "tickSize": 5,
            "grid": false
          }
        }
      },
      "layer": [
        {"data": {"values": [{"d":"2004-01-01","d2":"2013-01-01","v":20},{"d":"2004-01-01","d2":"2013-01-01","v":40}]}, "mark": {"type": "rule", "color": "black"}, "encoding": {"x2": {"field": "d2"}, "strokeWidth": {"condition": {"test": "datum.v === 40", "value": 2}, "value": 1}}},
        {"data": {"values": [{"d":"2003-12-20","t":"Jan 04","v":-2.9},{"d":"2004-11-10","t":"Jan 05","v":-2.9},{"d":"2005-10-13","t":"Jan 06","v":-2.9},{"d":"2006-08-10","t":"Jan 07","v":-2.9},{"d":"2007-08-07","t":"Jan 08","v":-2.9},{"d":"2008-06-28","t":"Jan 09","v":-2.9},{"d":"2009-05-25","t":"Jan 10","v":-2.9},{"d":"2010-04-10","t":"Jan 11","v":-2.9},{"d":"2011-03-13","t":"Jan 12","v":-2.9},{"d":"2012-02-10","t":"Jan 13","v":-2.9}]}, "mark": {"type": "text", "fontSize": 14, "color": "black", "baseline": "middle"}, "encoding": {"text": {"field": "t"}}},
        {"data": {"values": [{"d":"2007-03-18","v":54.3,"v2":2.1},{"d":"2008-01-28","v":54.3,"v2":2.1},{"d":"2009-05-18","v":54.3,"v2":2.1}]}, "mark": {"type": "rule", "color": "#858585", "strokeWidth": 2, "strokeDash": [6, 4]}, "encoding": {"y2": {"field": "v2"}}},
        {"data": {"values": [{"d":"2007-08-12","t":"Sept 07","v":56.0},{"d":"2008-09-03","t":"Aug 08","v":56.0},{"d":"2009-12-27","t":"Jan 10","v":56.0}]}, "mark": {"type": "point", "shape": "M-1,-0.38H1V0.38H-1Z", "size": 3364, "filled": true, "fill": "white", "stroke": "black", "strokeWidth": 1.2, "opacity": 1}},
        {"data": {"values": [{"d":"2007-08-12","t":"Sept 07","v":56.0},{"d":"2008-09-03","t":"Aug 08","v":56.0},{"d":"2009-12-27","t":"Jan 10","v":56.0}]}, "mark": {"type": "text", "fontSize": 12.5, "color": "#222222"}, "encoding": {"text": {"field": "t"}}},
        {"data": {"values": [{"d":"2007-12-06","t":"“Base year”","v":2.7},{"d":"2008-03-13","t":"for Forecast","v":2.7},{"d":"2009-02-16","t":"Economic","v":2.7},{"d":"2009-06-01","t":"Recession","v":2.7},{"d":"2011-05-09","t":"Forecast","v":2.7},{"d":"2011-08-22","t":"2010-2012","v":2.7}]}, "mark": {"type": "text", "angle": 270, "align": "left", "baseline": "middle", "fontSize": 13, "color": "black"}, "encoding": {"text": {"field": "t"}}},
        {"data": {"values": [{"d":"2009-05-18","t":"??","v":48.1},{"d":"2009-05-18","t":"??","v":16.2}]}, "mark": {"type": "text", "fontSize": 20, "color": "#1A1A80"}, "encoding": {"text": {"field": "t"}}},
        {
          "transform": [{"filter": "utcyear(datum.d) < 2009"}],
          "mark": {"type": "line", "color": "#000080"},
          "encoding": {
            "detail": {"field": "s", "type": "nominal"},
            "strokeWidth": {"condition": {"test": "indexof(datum.s,'Europe') >= 0", "value": 1.6}, "value": 1}
          }
        },
        {
          "transform": [{"filter": "utcyear(datum.d) > 2009"}],
          "mark": {"type": "line", "color": "#000080"},
          "encoding": {
            "detail": {"field": "s", "type": "nominal"},
            "strokeWidth": {"condition": {"test": "indexof(datum.s,'Europe') >= 0", "value": 1.6}, "value": 1}
          }
        },
        {
          "mark": {"type": "point", "filled": true, "opacity": 1, "color": "#000080", "size": 50},
          "encoding": {
            "shape": {
              "field": "s", "type": "nominal",
              "scale": {"domain": ["CO2 Emissions (worldwide)", "CO2 Emissions (from / to Europe)"], "range": ["triangle-up", "circle"]},
              "legend": {
                "title": null, "orient": "none", "legendX": 169, "legendY": 171,
                "padding": 10, "strokeColor": "black", "fillColor": "white",
                "labelFontSize": 13, "labelColor": "black", "rowPadding": 20, "symbolOffset": 16, "labelOffset": 24
              }
            }
          }
        }
      ]
    }
  ]
}
